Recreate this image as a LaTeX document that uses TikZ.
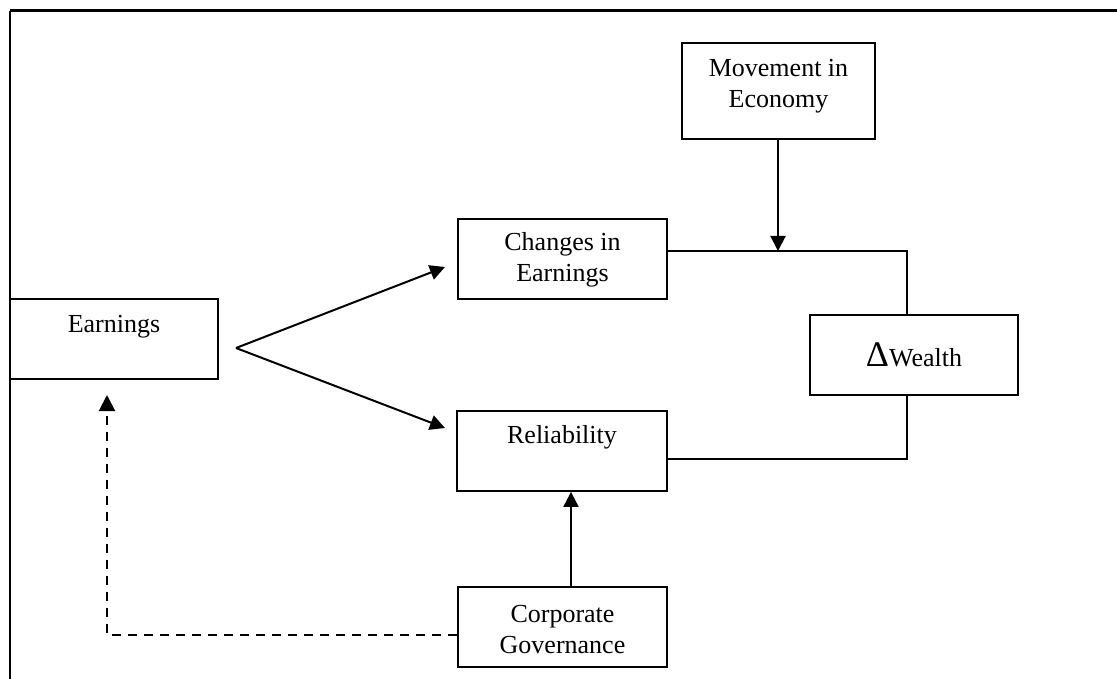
\documentclass[tikz,border=0pt]{standalone}
\usepackage{fontspec}
\setmainfont{Liberation Serif}
\usetikzlibrary{arrows.meta}
\begin{document}
\begin{tikzpicture}[x=1pt,y=-1pt,
  box/.style={draw, line width=1.8pt, rectangle, inner sep=0pt},
  lbl/.style={font=\fontsize{26}{31}\selectfont, align=center, inner sep=0pt},
  conn/.style={line width=2pt},
  arr/.style={conn, -{Triangle[length=15pt,width=15pt]}},
  dashedarr/.style={line width=2pt, dash pattern=on 9pt off 7pt, -{Triangle[length=16pt,width=16pt]}},
]
\useasboundingbox (0,0) rectangle (1117,679);
% frame
\coordinate (ftl) at (10,11);
\coordinate (ftr) at (1117,11);
\coordinate (fbl) at (10,679);
\draw[line width=3pt] (ftl) -- (ftr);
\draw[line width=1.5pt] (ftl) -- (fbl);

% boxes
\node[box, minimum width=208pt, minimum height=80pt,
  label={[lbl,yshift=12pt]center:Earnings}] (earn) at (114,339) {};
\node[box, minimum width=193pt, minimum height=96pt,
  label={[lbl,yshift=5pt]center:Movement in\\Economy}] (mov) at (778.5,91) {};
\node[box, minimum width=209pt, minimum height=80pt,
  label={[lbl,yshift=-1pt]center:Changes in\\Earnings}] (chg) at (562.5,259) {};
\node[box, minimum width=210pt, minimum height=80pt,
  label={[lbl,yshift=14pt]center:Reliability}] (rel) at (562,451) {};
\node[box, minimum width=208pt, minimum height=80pt,
  label={[lbl,yshift=0pt]center:{\fontsize{36}{36}\selectfont Δ}Wealth}] (dw) at (914,355) {};
\node[box, minimum width=209pt, minimum height=80pt,
  label={[lbl,yshift=-3pt]center:Corporate\\Governance}] (corp) at (562.5,627) {};

% helper coordinates
\coordinate (apex) at (236,348);
\coordinate (tipC) at (445,267);
\coordinate (tipR) at (445,428);
\coordinate (cj) at (778,251);
\coordinate (dcorner) at (107,635);
\coordinate (dtip) at (107,395);

% connectors
\draw[arr] (apex) -- (tipC);
\draw[arr] (apex) -- (tipR);
\draw[conn] ([yshift=8pt]chg.east) -| ([xshift=-7pt]dw.north);
\draw[conn] ([yshift=-8pt]rel.east) -| ([xshift=-7pt]dw.south);
\draw[arr] (mov.south -| cj) -- (cj);
\draw[arr] ([xshift=8.5pt]corp.north) -- ([xshift=8.5pt]corp.north |- rel.south);
\draw[dashedarr] ([yshift=-8pt]corp.west) -- (dcorner) -- (dtip);
\end{tikzpicture}
\end{document}
